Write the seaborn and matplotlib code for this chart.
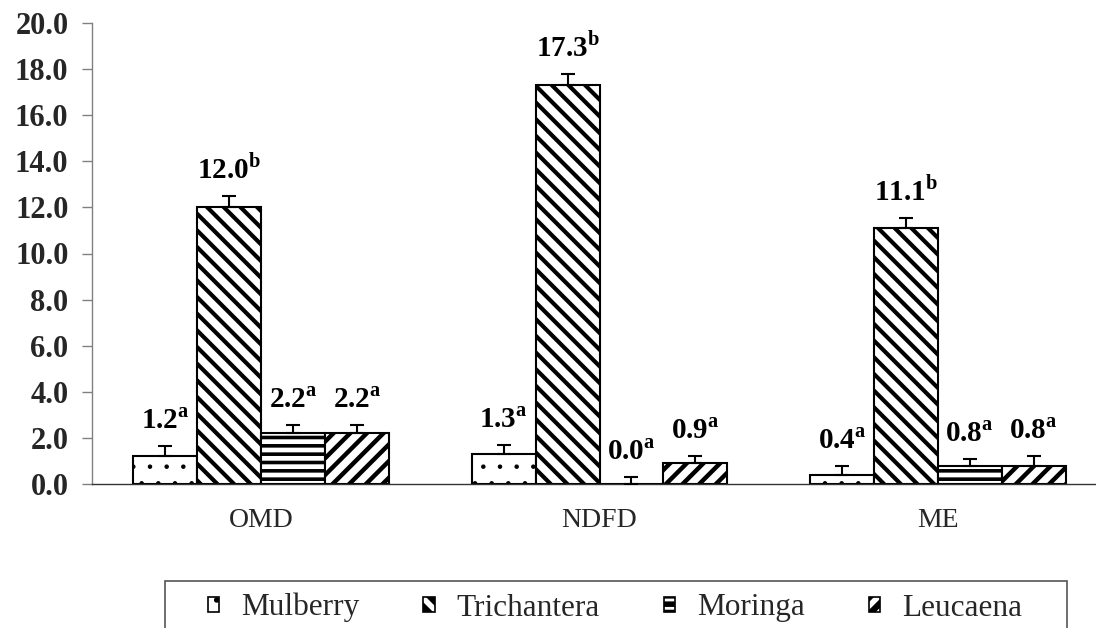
import matplotlib
matplotlib.use("Agg")
import matplotlib.pyplot as plt
from matplotlib.patches import Patch, Rectangle
from matplotlib.container import BarContainer
import seaborn as sns
import pandas as pd

# ---- data ----
categories = ["OMD", "NDFD", "ME"]
species = ["Mulberry", "Trichantera", "Moringa", "Leucaena"]
mulberry = [1.2, 1.3, 0.4]
trichantera = [12.0, 17.3, 11.1]
moringa = [2.2, 0.0, 0.8]
leucaena = [2.2, 0.9, 0.8]
mulberry_err = [0.45, 0.4, 0.4]
trichantera_err = [0.5, 0.5, 0.45]
moringa_err = [0.35, 0.3, 0.3]
leucaena_err = [0.35, 0.3, 0.4]
mulberry_sig = ["a", "a", "a"]
trichantera_sig = ["b", "b", "b"]
moringa_sig = ["a", "a", "a"]
leucaena_sig = ["a", "a", "a"]
y_ticks = [0, 2, 4, 6, 8, 10, 12, 14, 16, 18, 20]

values = [mulberry, trichantera, moringa, leucaena]
errors = [mulberry_err, trichantera_err, moringa_err, leucaena_err]
sigs = [mulberry_sig, trichantera_sig, moringa_sig, leucaena_sig]

rows = []
for s, vals in zip(species, values):
    for c, v in zip(categories, vals):
        rows.append({"Parameter": c, "Species": s, "Value": v})
df = pd.DataFrame(rows)

sns.set_theme(style="white")
plt.rcParams["font.family"] = ["Liberation Serif", "DejaVu Serif"]
plt.rcParams["mathtext.fontset"] = "custom"
plt.rcParams["mathtext.rm"] = "Liberation Serif"
plt.rcParams["mathtext.bf"] = "Liberation Serif:bold"
plt.rcParams["hatch.linewidth"] = 3.0

hatches = [".", "\\\\", "--", "//"]
hatch_lw = [0.8, 3.0, 2.6, 3.2]

fig = plt.figure(figsize=(10.96, 6.28), dpi=100)
ax = fig.add_axes([92 / 1096, 1 - 484 / 628, (1107 - 92) / 1096, (484 - 23) / 628])

sns.barplot(data=df, x="Parameter", y="Value", hue="Species",
            order=categories, hue_order=species,
            palette=["white"] * 4, edgecolor="black", linewidth=1.5,
            width=0.755, gap=0, errorbar=None, ax=ax)
if ax.get_legend() is not None:
    ax.get_legend().remove()

bar_containers = [c for c in ax.containers if isinstance(c, BarContainer)]
for i, cont in enumerate(bar_containers):
    for p in cont.patches:
        p.set_hatch(hatches[i])
        p.set_facecolor("white")
        p.set_edgecolor("black")
        if hasattr(p, "set_hatch_linewidth"):
            p.set_hatch_linewidth(hatch_lw[i])
        xc = p.get_x() + p.get_width() / 2
        ci = int(round(xc))
        h = p.get_height()
        err = errors[i][ci]
        ax.errorbar([xc], [h], yerr=[[0], [err]], fmt="none", ecolor="black",
                    elinewidth=1.5, capsize=4.7, capthick=1.5, zorder=3)
        label = rf"$\mathbf{{{values[i][ci]:.1f}}}^{{\mathbf{{{sigs[i][ci]}}}}}$"
        ax.annotate(label, xy=(xc, h + err), xytext=(0, 8),
                    textcoords="offset points", ha="center", va="bottom",
                    fontsize=21, color="black")

ax.set_ylim(0, 20)
ax.set_xlim(-0.5, len(categories) - 0.5)
ax.set_yticks(y_ticks)
ax.set_yticklabels([f"{t:.1f}" for t in y_ticks], fontsize=22, fontweight="bold")
ax.set_xticks(range(len(categories)))
ax.set_xticklabels(categories, fontsize=20)
ax.set_xticks([k - 0.5 for k in range(len(categories) + 1)], minor=True)
ax.tick_params(axis="x", which="major", length=0, pad=17.5)
ax.tick_params(axis="x", which="minor", length=7, width=1, color="#555555", direction="out")
ax.tick_params(axis="y", length=7, width=1, color="#808080", direction="out", left=True, pad=10)
ax.set_xlabel("")
ax.set_ylabel("")
for side in ["top", "right"]:
    ax.spines[side].set_visible(False)
ax.spines["left"].set_color("#808080")
ax.spines["bottom"].set_color("#333333")
ax.spines["left"].set_linewidth(1)
ax.spines["bottom"].set_linewidth(1)

# legend frame (extends below the figure edge, like the reference)
fig.patches.append(Rectangle((165 / 1096, -0.05), (1067 - 165) / 1096, 0.05 + (628 - 581) / 628,
                             transform=fig.transFigure, facecolor="none",
                             edgecolor="#555555", linewidth=1.2))

handles = []
for i, s in enumerate(species):
    hp = Patch(facecolor="white", edgecolor="black", hatch=hatches[i], label=s, linewidth=1.2)
    handles.append(hp)
leg = fig.legend(handles=handles, loc="upper left", ncol=4,
                 bbox_to_anchor=(208 / 1096, 1 - 593 / 628),
                 fontsize=22.5, frameon=False, borderpad=0, borderaxespad=0,
                 handlelength=0.36, handleheight=0.36,
                 handletextpad=0.7, columnspacing=2.05)
legend_hatch_lw = [1.5, 4.5, 4.0, 4.5]
for i, hp in enumerate(leg.get_patches()):
    if hasattr(hp, "set_hatch_linewidth"):
        hp.set_hatch_linewidth(legend_hatch_lw[i])

fig.savefig("out.png", dpi=100)
